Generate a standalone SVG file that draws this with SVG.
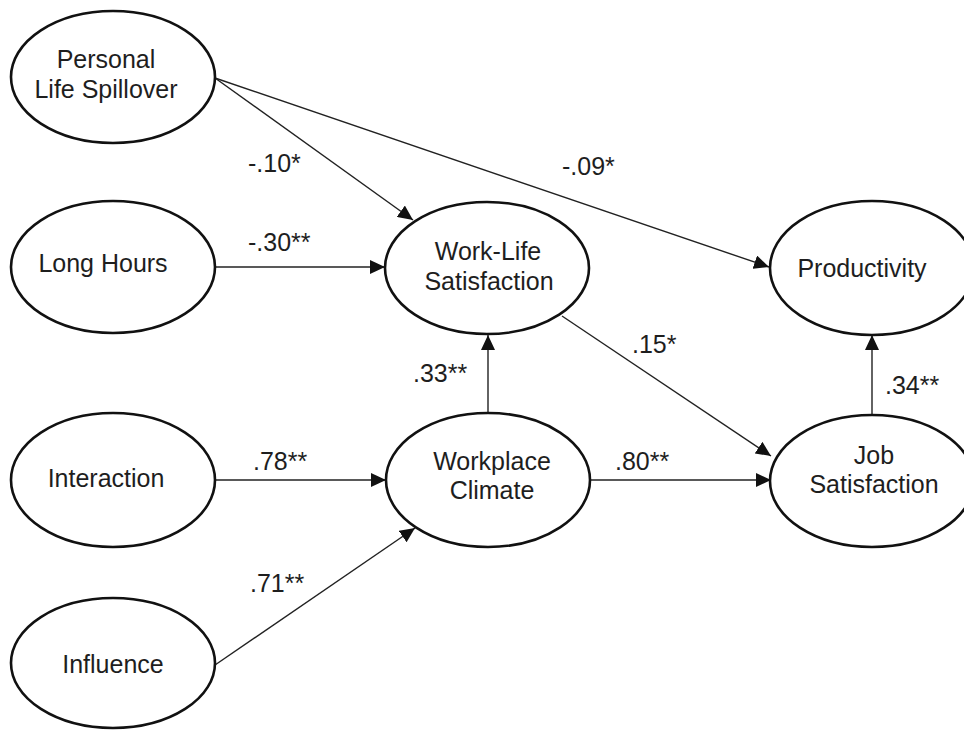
<svg xmlns="http://www.w3.org/2000/svg" width="964" height="730" viewBox="0 0 964 730">
<style>
.node ellipse{fill:#fff;stroke:#111;stroke-width:2.6}
text{font-family:"Liberation Sans",Arial,sans-serif;font-size:25px;fill:#1e1e1e}
.node text{text-anchor:middle}
.conn line{stroke:#222;stroke-width:1.4}
</style>
<defs>
<marker id="ah" markerUnits="userSpaceOnUse" markerWidth="16" markerHeight="14" refX="15" refY="7" orient="auto">
<path d="M0,0 L15,7 L0,14 Z" fill="#111"/>
</marker>
</defs>
<rect width="964" height="730" fill="#fff"/>
<g class="conn">
<line x1="215" y1="78" x2="413" y2="220" marker-end="url(#ah)"/>
<line x1="215" y1="78" x2="769" y2="267" marker-end="url(#ah)"/>
<line x1="215" y1="267" x2="385" y2="267" marker-end="url(#ah)"/>
<line x1="215" y1="480" x2="386" y2="480" marker-end="url(#ah)"/>
<line x1="215" y1="665" x2="415" y2="528" marker-end="url(#ah)"/>
<line x1="488" y1="413" x2="488" y2="335" marker-end="url(#ah)"/>
<line x1="562" y1="316" x2="771" y2="456" marker-end="url(#ah)"/>
<line x1="590" y1="480" x2="771" y2="480" marker-end="url(#ah)"/>
<line x1="872" y1="415" x2="872" y2="335" marker-end="url(#ah)"/>
</g>
<g id="labels">
<text x="248" y="172">-.10*</text>
<text x="562" y="175">-.09*</text>
<text x="248" y="251">-.30**</text>
<text x="413" y="382">.33**</text>
<text x="632" y="353">.15*</text>
<text x="885" y="394">.34**</text>
<text x="253" y="470">.78**</text>
<text x="615" y="470">.80**</text>
<text x="250" y="592">.71**</text>
</g>
<g id="personal" class="node">
<ellipse cx="113" cy="77" rx="102" ry="66"/>
<text x="106" y="68">Personal</text>
<text x="106" y="98">Life Spillover</text>
</g>
<g id="longhours" class="node">
<ellipse cx="113" cy="267" rx="102" ry="66"/>
<text x="103" y="272">Long Hours</text>
</g>
<g id="interaction" class="node">
<ellipse cx="113" cy="480" rx="102" ry="67"/>
<text x="106" y="487">Interaction</text>
</g>
<g id="influence" class="node">
<ellipse cx="113" cy="663" rx="102" ry="65"/>
<text x="113" y="673">Influence</text>
</g>
<g id="worklife" class="node">
<ellipse cx="487" cy="268" rx="102" ry="66"/>
<text x="488" y="260">Work-Life</text>
<text x="489" y="290">Satisfaction</text>
</g>
<g id="climate" class="node">
<ellipse cx="488" cy="480" rx="102" ry="67"/>
<text x="492" y="470">Workplace</text>
<text x="492" y="499">Climate</text>
</g>
<g id="productivity" class="node">
<ellipse cx="872" cy="268" rx="102" ry="67"/>
<text x="862" y="277">Productivity</text>
</g>
<g id="jobsat" class="node">
<ellipse cx="872" cy="481" rx="102" ry="66"/>
<text x="874" y="464">Job</text>
<text x="874" y="493">Satisfaction</text>
</g>
</svg>
